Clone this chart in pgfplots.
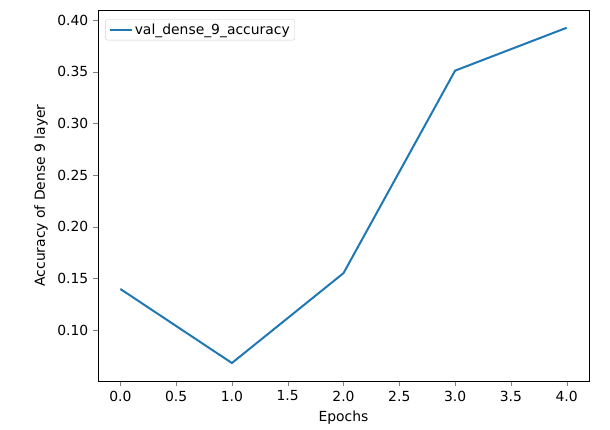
\documentclass[border=0pt]{standalone}
\usepackage{pgfplots}
\pgfplotsset{compat=1.18}
\usepackage{fontspec}
\setmainfont{DejaVu Sans}
\definecolor{mplblue}{HTML}{1F77B4}
\begin{document}
\fontsize{13.9}{16}\selectfont
\begin{tikzpicture}
\path[use as bounding box] (-98pt,-49pt) rectangle (512pt,381pt);
\begin{axis}[at={(0,0)},anchor=south west,
  scale only axis, width=491pt, height=371pt,
  xmin=-0.2, xmax=4.2, ymin=0.0506, ymax=0.4097,
  xtick={0,0.5,...,4}, ytick={0.10,0.15,...,0.41},
  /pgf/number format/.cd, fixed, fixed zerofill, precision=1, assume math mode=true,
  /pgfplots/.cd,
  yticklabel style={/pgf/number format/precision=2},
  tick align=outside, tick pos=left, major tick length=4.9pt,
  ticklabel style={font=\fontsize{13.9}{16}\selectfont},
  label style={font=\fontsize{13.9}{16}\selectfont},
  xlabel={Epochs}, ylabel={Accuracy of Dense 9 layer},
  legend pos=north west,
  legend style={font=\fontsize{13.9}{16}\selectfont, draw=black!20, rounded corners=2pt, at={(0.015,0.975)}},
  legend cell align=left,
  legend image post style={xscale=1.3},
]
\addplot[mplblue, line width=2pt] coordinates {(0,0.1397) (1,0.0680) (2,0.1550) (3,0.3510) (4,0.3925)};
\addlegendentry{val\_dense\_9\_accuracy}
\end{axis}
\end{tikzpicture}
\end{document}
